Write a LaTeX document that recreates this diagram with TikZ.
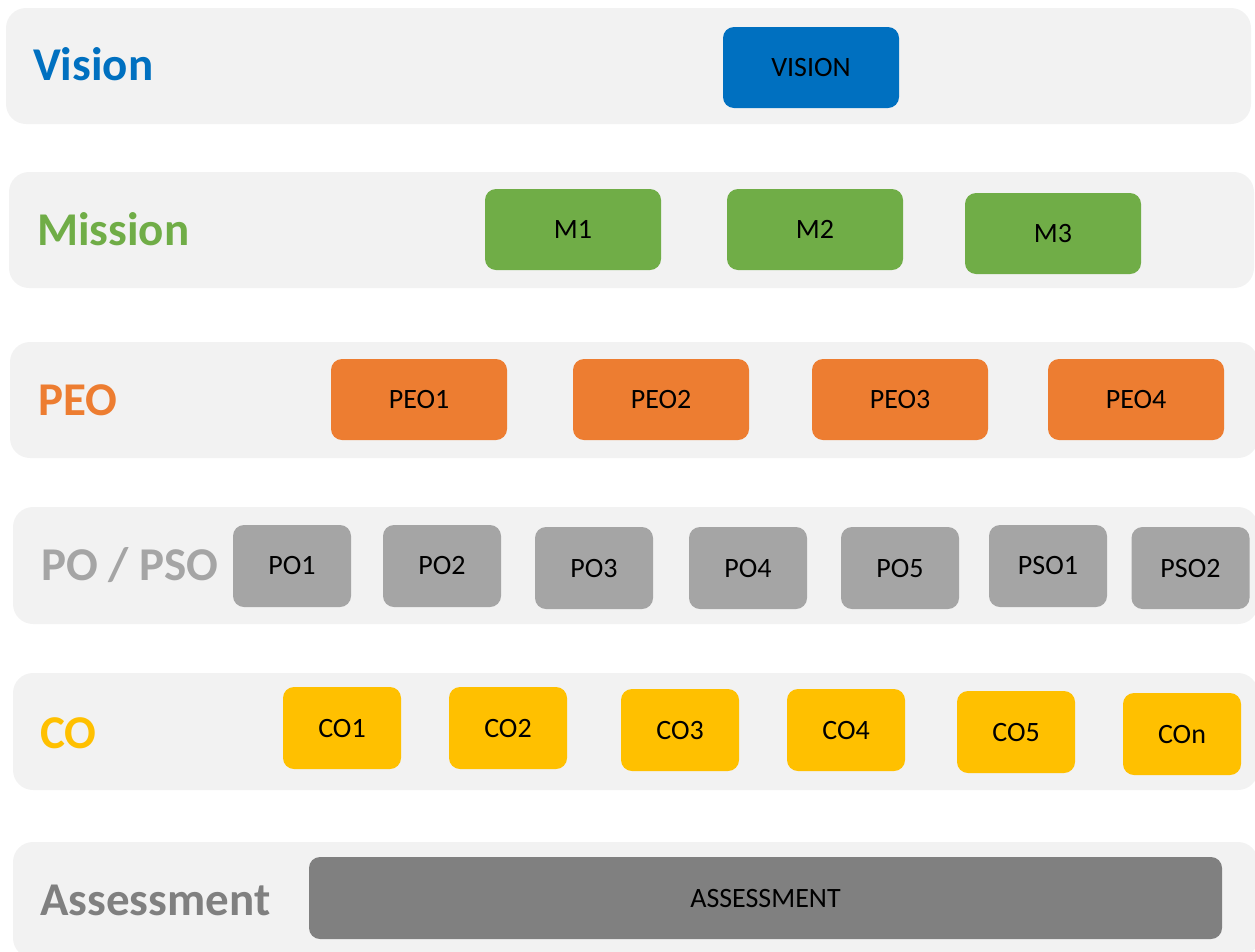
\documentclass[tikz,border=0pt]{standalone}
\usepackage{fontspec}
\setmainfont{Carlito}
\definecolor{bandgray}{HTML}{F2F2F2}
\definecolor{cvision}{HTML}{0070C0}
\definecolor{cmission}{HTML}{70AD47}
\definecolor{cpeo}{HTML}{ED7D31}
\definecolor{cpo}{HTML}{A5A5A5}
\definecolor{cco}{HTML}{FFC000}
\definecolor{cassess}{HTML}{808080}
\begin{document}
\begin{tikzpicture}[x=1pt,y=-1pt,
  band/.style={fill=bandgray, draw=none, rounded corners=20pt, inner sep=0pt},
  rowlabel/.style={anchor=base west, inner sep=0pt, font=\fontsize{47}{50}\selectfont\bfseries},
  item/.style={draw=none, rounded corners=11pt, inner sep=0pt, text=black,
    font=\fontsize{28}{30}\selectfont},
  wide/.style={item, minimum width=176pt, minimum height=81pt},
  narrow/.style={item, minimum width=118pt, minimum height=82pt}]
\useasboundingbox (0,0) rectangle (1255,951);
\clip (0,0) rectangle (1255,951);

% background bands
\node[band, minimum width=1245pt, minimum height=116pt] (bandV) at (628.5,66) {};
\node[band, minimum width=1245pt, minimum height=116pt] (bandM) at (631.5,230) {};
\node[band, minimum width=1248pt, minimum height=116pt] (bandP) at (634,400) {};
\node[band, minimum width=1245pt, minimum height=117pt] (bandO) at (635.5,565.5) {};
\node[band, minimum width=1245pt, minimum height=117pt] (bandC) at (635.5,731.5) {};
\node[band, minimum width=1245pt, minimum height=116pt] (bandA) at (635.5,900) {};

% row labels
\node[rowlabel, text=cvision]  (lV) at (33,80)  {Vision};
\node[rowlabel, text=cmission] (lM) at (37,245) {Mission};
\node[rowlabel, text=cpeo]     (lP) at (38,415) {PEO};
\node[rowlabel, text=cpo]      (lO) at (41,580) {PO / PSO};
\node[rowlabel, text=cco]      (lC) at (40,748) {CO};
\node[rowlabel, text=cassess]  (lA) at (40,915) {Assessment};

% vision
\node[wide, fill=cvision] (vision) at (811,67.5) {VISION};

% mission
\node[wide, fill=cmission] (m1) at (573,229.5) {M1};
\node[wide, fill=cmission] (m2) at (815,229.5) {M2};
\node[wide, fill=cmission] (m3) at (1053,233.5) {M3};

% programme educational objectives
\node[wide, fill=cpeo] (peo1) at (419,399.5) {PEO1};
\node[wide, fill=cpeo] (peo2) at (661,399.5) {PEO2};
\node[wide, fill=cpeo] (peo3) at (900,399.5) {PEO3};
\node[wide, fill=cpeo] (peo4) at (1136,399.5) {PEO4};

% programme outcomes
\node[narrow, fill=cpo] (po1)  at (292,566) {PO1};
\node[narrow, fill=cpo] (po2)  at (442,566) {PO2};
\node[narrow, fill=cpo] (po3)  at (594,568) {PO3};
\node[narrow, fill=cpo] (po4)  at (748,568) {PO4};
\node[narrow, fill=cpo] (po5)  at (900,568) {PO5};
\node[narrow, fill=cpo] (pso1) at (1048,566) {PSO1};
\node[narrow, fill=cpo] (pso2) at (1190.5,568) {PSO2};

% course outcomes
\node[narrow, fill=cco] (co1) at (342,728) {CO1};
\node[narrow, fill=cco] (co2) at (508,728) {CO2};
\node[narrow, fill=cco] (co3) at (680,730) {CO3};
\node[narrow, fill=cco] (co4) at (846,730) {CO4};
\node[narrow, fill=cco] (co5) at (1016,732) {CO5};
\node[narrow, fill=cco] (con) at (1182,734) {COn};

% assessment
\node[item, fill=cassess, minimum width=913pt, minimum height=82pt] (assess) at (765.5,898) {ASSESSMENT};
\end{tikzpicture}
\end{document}
